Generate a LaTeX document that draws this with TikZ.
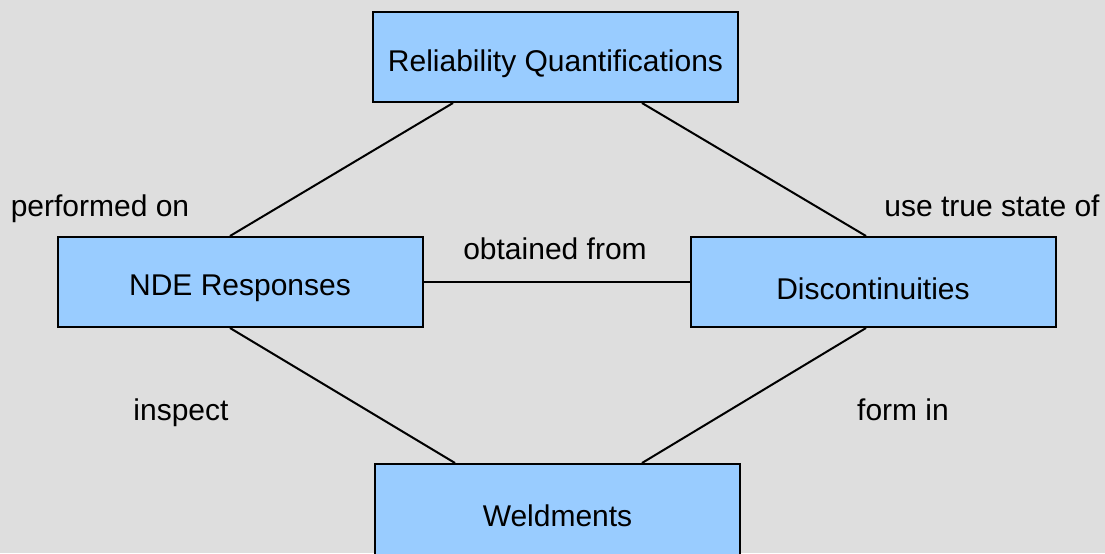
\documentclass[tikz,border=0pt]{standalone}
\usepackage{fontspec}
\setmainfont{Liberation Sans}
\usepackage{tikz}
\usetikzlibrary{positioning}
\definecolor{boxblue}{HTML}{99CCFF}
\definecolor{bggray}{HTML}{DEDEDE}
\newcommand{\lowtext}[1]{\raisebox{0pt}[\dimexpr\height+6.5pt\relax][\depth]{#1}}

\begin{document}
\begin{tikzpicture}[x=0.5pt,y=-0.5pt,line width=1pt,font=\fontsize{15}{18}\selectfont]
  \tikzstyle{box}=[draw=black,fill=boxblue,text=black,minimum width=182.5pt,minimum height=45pt,inner sep=0pt,line width=1pt]
  \tikzstyle{lbl}=[text=black,inner sep=0pt]

  \fill[bggray] (0,0) rectangle (1105,553);
  \useasboundingbox (0,0) rectangle (1105,553);

  \node[box] (R) at (555.5,57)  {\lowtext{Reliability Quantifications}};
  \node[box] (N) at (240,282)   {\lowtext{NDE Responses}};
  \node[box] (D) at (873,282)   {\lowtext{Discontinuities}};
  \begin{scope}
    \clip (0,0) rectangle (1105,553);
    \node[box,minimum height=52pt] (W) at (557.5,516) {Weldments};
  \end{scope}

  \node[lbl] (perf) at (100,209) {performed on};
  \node[lbl] (use)  at (992,206) {use true state of};
  \node[lbl] (obt)  at (555,249) {obtained from};
  \node[lbl] (insp) at (181,413) {inspect};
  \node[lbl] (form) at (903,410) {form in};

  \draw ([xshift=-51.25pt]R.south) -- ([xshift=-5pt]N.north);
  \draw ([xshift=43.25pt]R.south)  -- ([xshift=-3.5pt]D.north);
  \draw (N.east) -- (D.west);
  \draw ([xshift=-5pt]N.south) -- ([xshift=-51.25pt]W.north);
  \draw ([xshift=-3.5pt]D.south) -- ([xshift=42.25pt]W.north);
\end{tikzpicture}
\end{document}
